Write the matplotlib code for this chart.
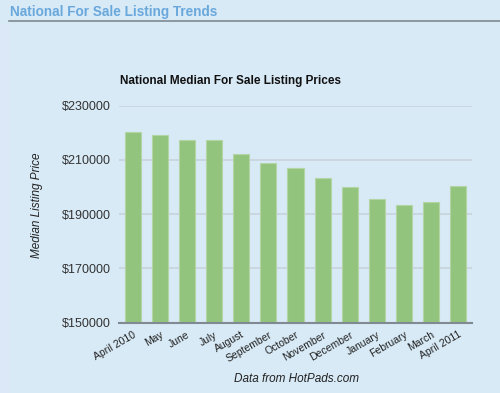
import matplotlib.pyplot as plt
from matplotlib.patches import Rectangle
from matplotlib.lines import Line2D

plt.rcParams['font.family'] = ['Liberation Sans', 'DejaVu Sans']

months = ['April 2010', 'May', 'June', 'July', 'August', 'September', 'October',
          'November', 'December', 'January', 'February', 'March', 'April 2011']
prices = [220400, 219300, 217400, 217400, 212200, 208700, 206900,
          203500, 199900, 195700, 193500, 194600, 200500]
yticks = [150000, 170000, 190000, 210000, 230000]

bg = '#d8eaf6'

fig = plt.figure(figsize=(5, 3.93), dpi=100, facecolor=bg)

# lighter strip on the left edge, below the header rule
fig.patches.append(Rectangle((0, 0), 9 / 500, 1 - 24 / 393, transform=fig.transFigure,
                             facecolor='#dce8f7', edgecolor='none'))
fig.lines.append(Line2D([9 / 500, 1], [1 - 21 / 393, 1 - 21 / 393],
                        transform=fig.transFigure, color='#7f8a92', lw=1.2))
fig.text(10 / 500, 1 - 12 / 393, 'National For Sale Listing Trends', color='#6aa8dc',
         fontsize=9.8, fontweight='bold', va='center', ha='left')

ax = fig.add_axes([0.238, 0.179, 0.706, 0.552])
ax.set_facecolor(bg)

ax.bar(range(len(months)), prices, width=0.59, color='#93c47d',
       edgecolor='#b3d6a4', linewidth=0.8, zorder=3)

ax.set_xlim(-0.5, len(months) - 0.5)
ax.set_ylim(150000, 230000)
ax.set_yticks(yticks)
ax.set_yticklabels(['$%d' % v for v in yticks], fontsize=9, color='#333333')
ax.set_xticks(range(len(months)))
ax.set_xticklabels(months, rotation=30, ha='right', rotation_mode='anchor',
                   fontsize=7.5, color='#222222')
ax.tick_params(length=0, pad=6)
ax.tick_params(axis='x', pad=5)

ax.grid(axis='y', color='#c9d6de', lw=1.3, zorder=0)
for s in ['top', 'right', 'left']:
    ax.spines[s].set_visible(False)
ax.spines['bottom'].set_color('#7f8a92')
ax.spines['bottom'].set_linewidth(1.5)
ax.spines['bottom'].set_zorder(4)

fig.text(120 / 500, 1 - 81 / 393, 'National Median For Sale Listing Prices',
         fontsize=8.5, fontweight='bold', color='#111111', va='center', ha='left')
fig.text(37 / 500, 1 - 205 / 393, 'Median Listing Price', rotation=90,
         fontsize=8.5, fontstyle='italic', color='#222222', va='center', ha='center')
fig.text(296 / 500, 1 - 379 / 393, 'Data from HotPads.com',
         fontsize=8.5, fontstyle='italic', color='#222222', va='center', ha='center')

fig.savefig('out.png', dpi=100, facecolor=bg)
